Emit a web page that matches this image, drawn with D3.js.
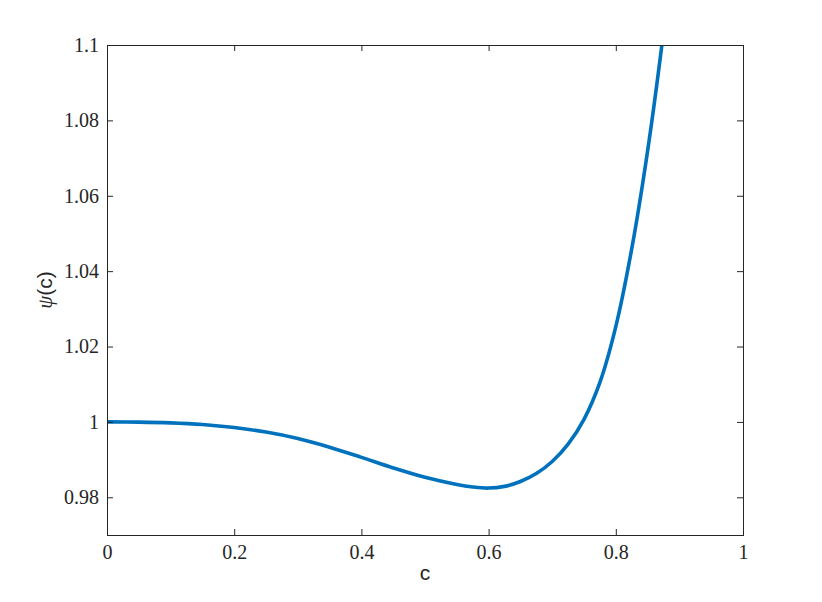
<!DOCTYPE html>
<html>
<head>
<meta charset="utf-8">
<script src="https://cdn.jsdelivr.net/npm/d3@7"></script>
<style>
  html, body { margin: 0; padding: 0; background: #fff; }
  svg { display: block; }
</style>
</head>
<body>
<svg id="chart" width="822" height="602"></svg>
<script>
const cValues   = [0, 0.05, 0.1, 0.15, 0.2, 0.25, 0.3, 0.35, 0.4, 0.45, 0.5, 0.55, 0.575, 0.6, 0.625, 0.65, 0.675, 0.7, 0.725, 0.75, 0.775, 0.8, 0.825, 0.85, 0.875, 0.9];
const psiValues = [1.0, 0.99995, 0.99975, 0.9993, 0.9985, 0.9973, 0.9956, 0.9933, 0.9906, 0.9878, 0.9853, 0.9834, 0.98275, 0.98245, 0.9829, 0.9842, 0.9863, 0.9895, 0.9941, 1.0007, 1.0105, 1.0253, 1.0459, 1.0719, 1.1034, 1.1400];
const xTicks = [0, 0.2, 0.4, 0.6, 0.8, 1];
const xTickLabels = ["0", "0.2", "0.4", "0.6", "0.8", "1"];
const yTicks = [0.98, 1.0, 1.02, 1.04, 1.06, 1.08, 1.1];
const yTickLabels = ["0.98", "1", "1.02", "1.04", "1.06", "1.08", "1.1"];

const svg = d3.select("#chart");
const L = 107, R = 743, T = 45, B = 535;
const x = d3.scaleLinear().domain([0, 1]).range([L, R]);
const y = d3.scaleLinear().domain([0.97, 1.1]).range([B, T]);

const serif = "'Liberation Serif', 'DejaVu Serif', serif";
const sans = "'Liberation Sans', Arial, sans-serif";
const axisColor = "#262626";

svg.append("defs").append("clipPath").attr("id", "clip")
  .append("rect").attr("x", L).attr("y", T).attr("width", R - L).attr("height", B - T);

svg.append("rect").attr("x", L).attr("y", T).attr("width", R - L).attr("height", B - T).attr("fill", "#fff");

// curve
const data = cValues.map((c, i) => ({c, p: psiValues[i]}));
svg.append("path")
  .datum(data)
  .attr("clip-path", "url(#clip)")
  .attr("fill", "none")
  .attr("stroke", "#0072BD")
  .attr("stroke-width", 3.6)
  .attr("stroke-linejoin", "round")
  .attr("d", d3.line().x(d => x(d.c)).y(d => y(d.p)).curve(d3.curveCatmullRom.alpha(0.5)));

function styleAxis(g) {
  g.selectAll(".domain").remove();
  g.selectAll(".tick line").attr("stroke", axisColor).attr("stroke-width", 1);
  g.selectAll(".tick text").attr("fill", axisColor).style("font-family", serif).style("font-size", "20px");
}

svg.append("g").attr("transform", `translate(0,${B})`)
  .call(d3.axisBottom(x).tickValues(xTicks).tickFormat((d, i) => xTickLabels[i]).tickSizeInner(-6).tickSizeOuter(0).tickPadding(10))
  .call(styleAxis);
svg.append("g").attr("transform", `translate(0,${T})`)
  .call(d3.axisTop(x).tickValues(xTicks).tickFormat("").tickSizeInner(-6).tickSizeOuter(0))
  .call(styleAxis);
svg.append("g").attr("transform", `translate(${L},0)`)
  .call(d3.axisLeft(y).tickValues(yTicks).tickFormat((d, i) => yTickLabels[i]).tickSizeInner(-6).tickSizeOuter(0).tickPadding(8))
  .call(styleAxis);
svg.append("g").attr("transform", `translate(${R},0)`)
  .call(d3.axisRight(y).tickValues(yTicks).tickFormat("").tickSizeInner(-6).tickSizeOuter(0))
  .call(styleAxis);

svg.append("rect").attr("x", L).attr("y", T).attr("width", R - L).attr("height", B - T)
  .attr("fill", "none").attr("stroke", axisColor).attr("stroke-width", 1).attr("shape-rendering", "crispEdges");

svg.append("text").attr("x", (L + R) / 2).attr("y", 580).attr("text-anchor", "middle")
  .style("font-family", sans).style("font-size", "21px").attr("fill", axisColor)
  .text("c");

const yl = svg.append("text").attr("transform", `translate(52,${(T + B) / 2}) rotate(-90)`).attr("text-anchor", "middle")
  .attr("fill", axisColor).style("font-size", "21px");
yl.append("tspan").style("font-family", serif).style("font-style", "italic").text("ψ");
yl.append("tspan").style("font-family", sans).text("(c)");
</script>
</body>
</html>
